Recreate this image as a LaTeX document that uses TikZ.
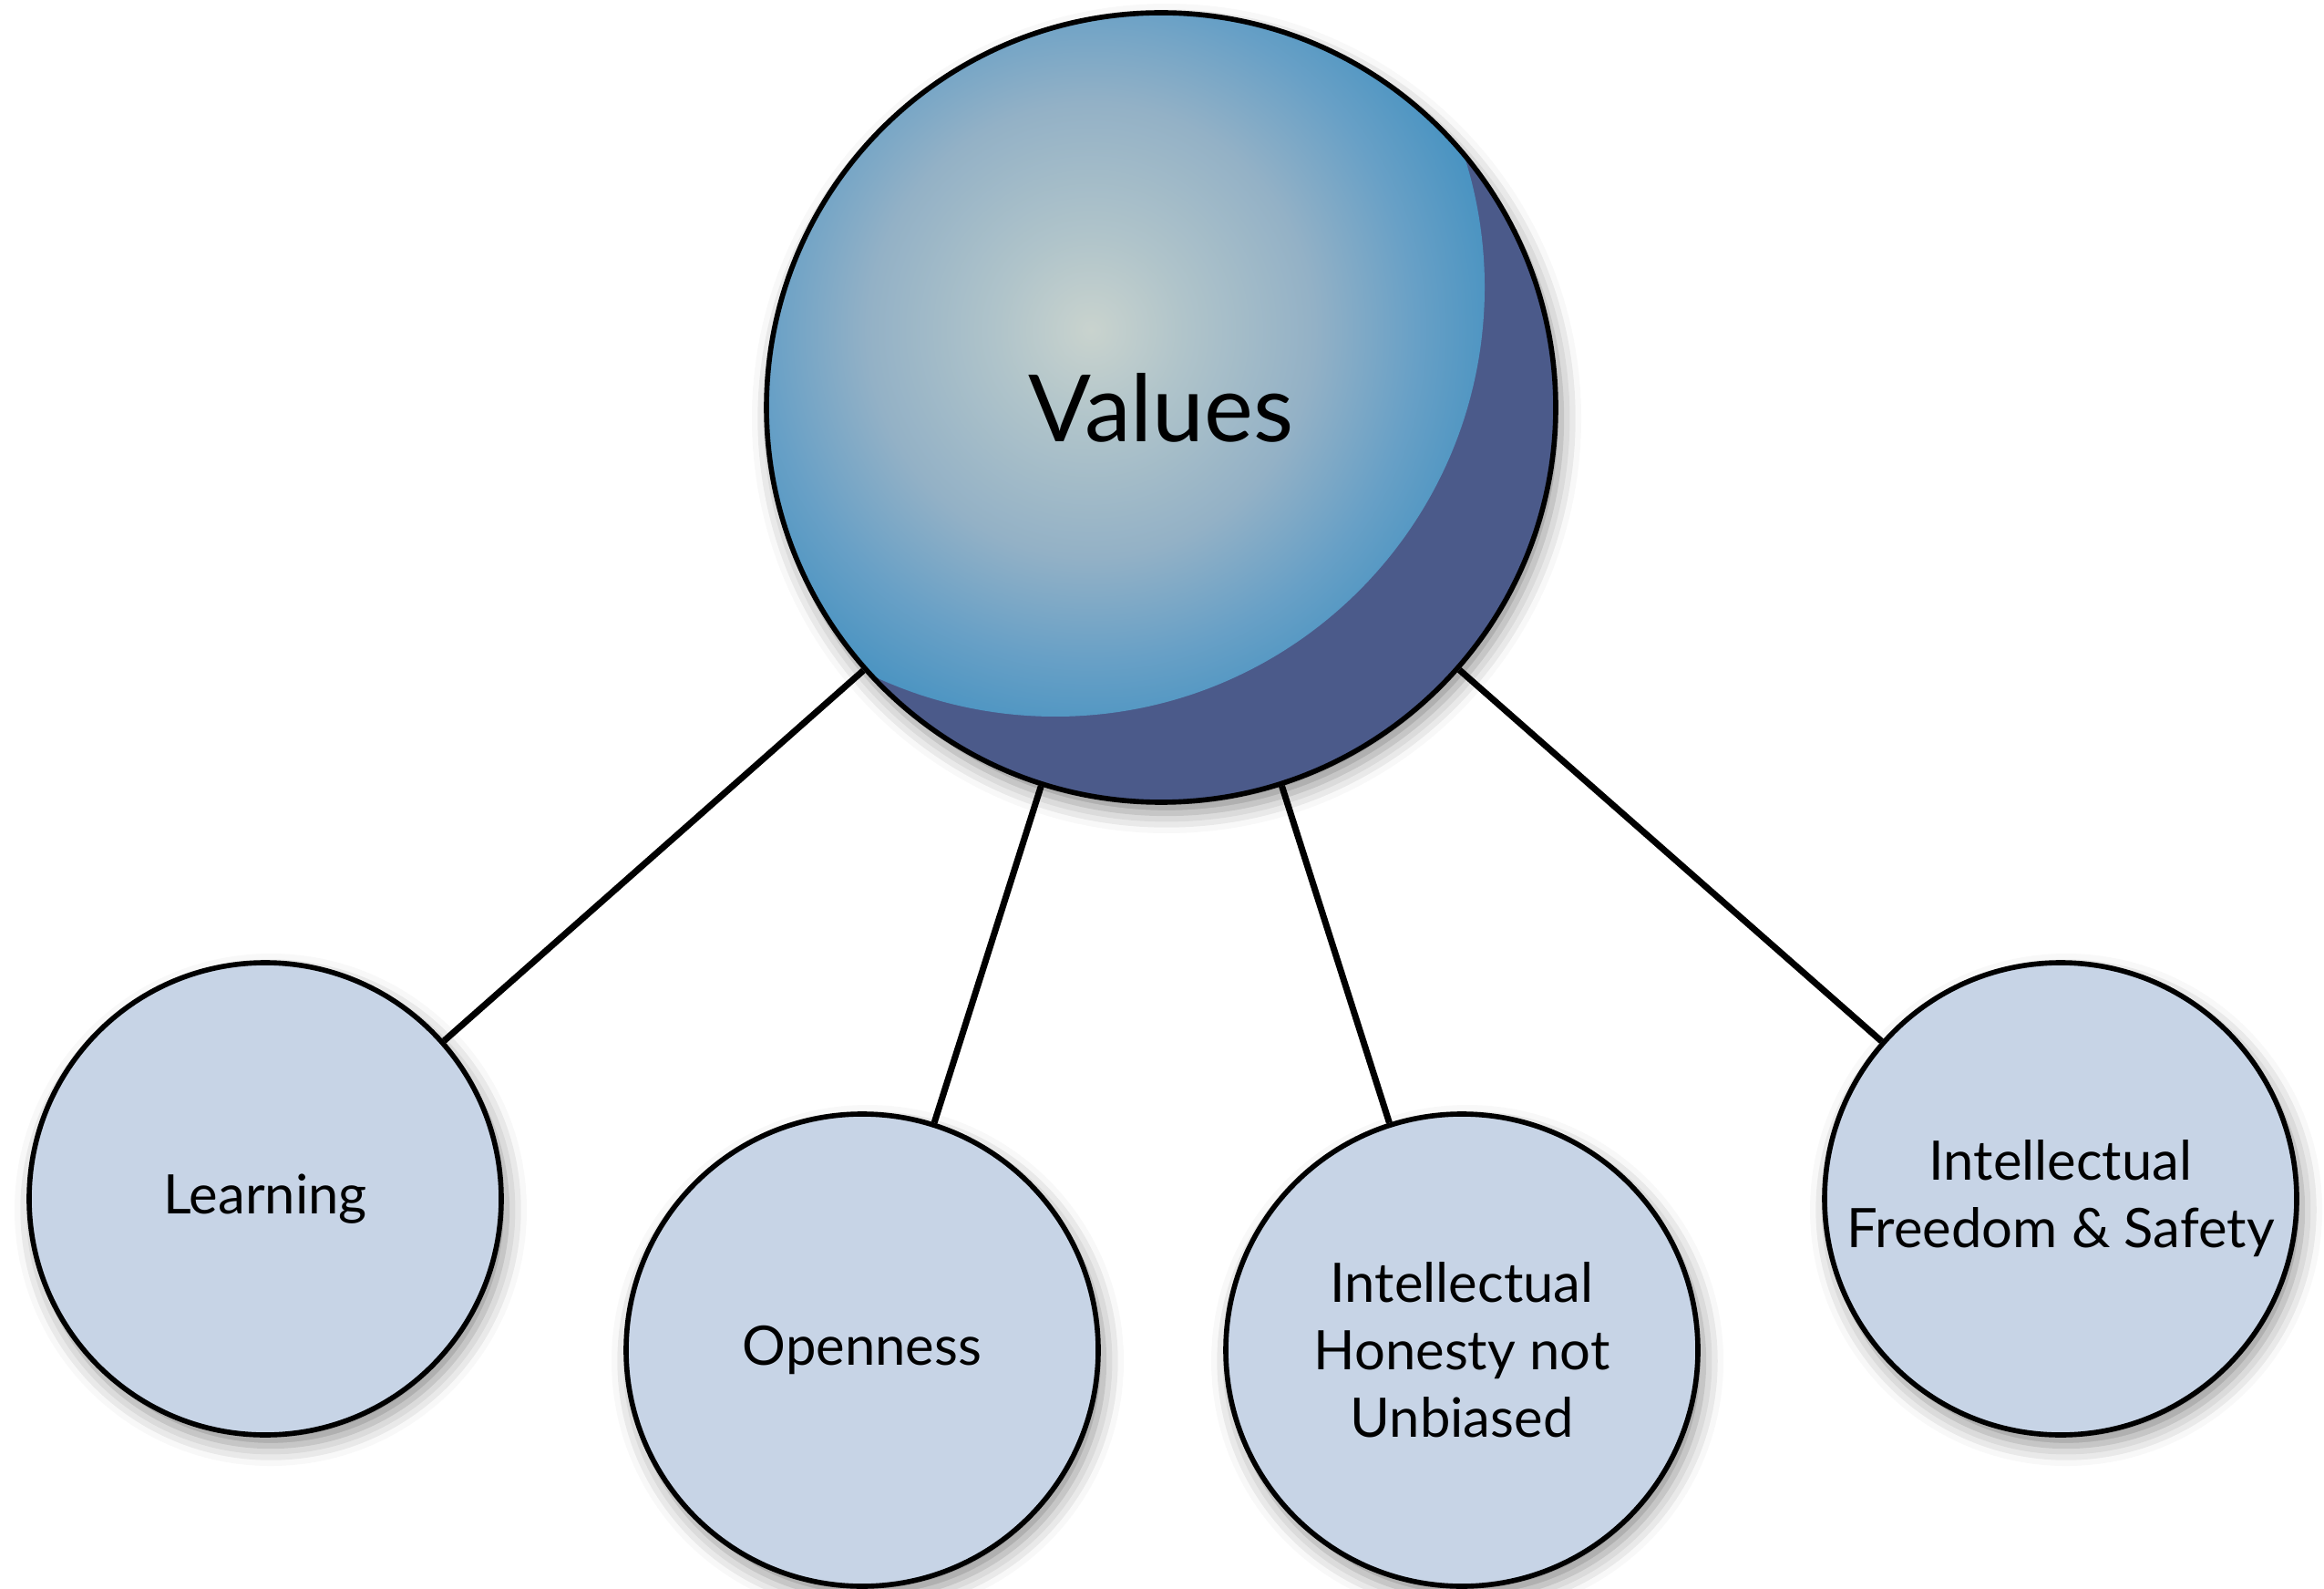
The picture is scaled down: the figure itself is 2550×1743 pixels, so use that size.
\documentclass[tikz,border=0pt]{standalone}
\usepackage{fontspec}
\setmainfont{Lato}
\usetikzlibrary{shadows.blur}
\definecolor{hl}{HTML}{C9D3CE}
\definecolor{hlb}{HTML}{B0C4CA}
\definecolor{midgray}{HTML}{93B1C6}
\definecolor{midblue}{HTML}{68A0C6}
\definecolor{ballblue}{HTML}{3F8FC0}
\definecolor{balldark}{HTML}{4B5A8A}
\definecolor{smallfill}{HTML}{C7D4E6}
\pgfdeclareradialshading{litball}{\pgfpoint{0bp}{0bp}}{color(0bp)=(hl); color(5bp)=(hlb); color(12bp)=(midgray); color(17.5bp)=(midblue); color(23.5bp)=(ballblue); color(33.4bp)=(ballblue); color(35.4bp)=(balldark); color(50bp)=(balldark)}
\begin{document}
\begin{tikzpicture}[x=0.1mm,y=-0.1mm,
  ballshadow/.style={blur shadow={shadow xshift=0.6mm, shadow yshift=-1.2mm, shadow blur radius=2.2mm, shadow opacity=45}},
  bigball/.style={circle, draw=black, line width=1.6pt, minimum size=86.6mm, inner sep=0pt,
    fill=balldark, ballshadow,
    path picture={\fill[shading=litball] ([shift={(-11.6mm,13.2mm)}]path picture bounding box.center) circle[radius=47.1mm];},
    font=\fontsize{29}{34}\selectfont},
  smallball/.style={circle, draw=black, line width=1.6pt, minimum size=51.8mm, inner sep=0pt,
    fill=smallfill, ballshadow, align=center, font=\fontsize{17}{21}\selectfont},
  link/.style={draw=black, line width=2pt}]
\useasboundingbox (0,0) rectangle (2550,1743);
\node[bigball] (values) at (1274,447) {Values};
\node[smallball] (learning) at (291,1315) {Learning};
\node[smallball] (openness) at (946,1481) {Openness};
\node[smallball] (honesty) at (1604,1481) {Intellectual\\Honesty not\\Unbiased};
\node[smallball] (freedom) at (2261,1315) {Intellectual\\Freedom \& Safety};
\draw[link] (values) -- (learning);
\draw[link] (values) -- (openness);
\draw[link] (values) -- (honesty);
\draw[link] (values) -- (freedom);
\end{tikzpicture}
\end{document}
